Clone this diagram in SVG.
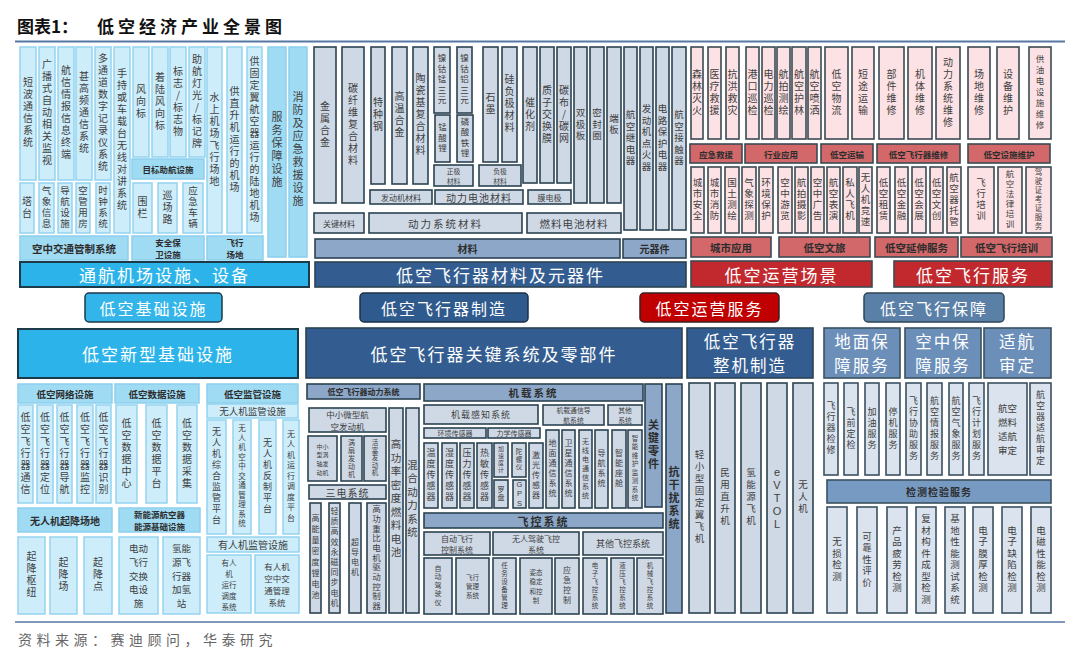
<svg xmlns="http://www.w3.org/2000/svg" width="1080" height="670" viewBox="0 0 1080 670">
<style>
text{font-family:"Noto Sans CJK SC","Noto Sans CJK JP",sans-serif}
.a{fill:#cdedfb;stroke:#93d3f0;stroke-width:1.5}
.ah{fill:#a0dbf4;stroke:#8ccfee;stroke-width:1.5}
.ab{fill:#2cb4ea;stroke:#1c3a47;stroke-width:2}
.b{fill:#cfd9e6;stroke:#2b4352;stroke-width:1.6}
.bm{fill:#8ca7c8;stroke:#2b4352;stroke-width:1.6}
.bb{fill:#335d91;stroke:#2b4352;stroke-width:1.6}
.c{fill:#fde2e5;stroke:#3a4a52;stroke-width:1.6}
.cm{fill:#d2686a;stroke:#3a4a52;stroke-width:1.6}
.cb{fill:#c2292e;stroke:#3a4a52;stroke-width:1.6}
.d{fill:#dbe4ee;stroke:#3a5060;stroke-width:1.6}
.dh{fill:#6b8fb9;stroke:#3a5060;stroke-width:1.6}
.dm{fill:#779ac2;stroke:#3a5060;stroke-width:1.6}
.v{writing-mode:vertical-rl;text-orientation:upright;text-anchor:middle;font-size:10px;letter-spacing:2px;fill:#404040}
.h{text-anchor:middle;dominant-baseline:central;fill:#2d2d2d;font-size:10px;font-weight:bold}
.n{text-anchor:middle;dominant-baseline:central;fill:#404040;font-size:9px}
.w{text-anchor:middle;dominant-baseline:central;fill:#fff;font-size:17px;letter-spacing:2px}
</style>
<rect width="1080" height="670" fill="#fff"/>
<g id="title">
<text x="17" y="33" font-size="17" font-weight="bold" fill="#111">图表1：<tspan x="97" letter-spacing="4">低空经济产业全景图</tspan></text>
<line x1="15" y1="41.5" x2="1065" y2="41.5" stroke="#5577a3" stroke-width="2"/>
</g>
<g id="connectors"/>

<!-- Top-left: general aviation airport -->
<g id="tl1"><rect class="a" x="20" y="47" width="16" height="133"/><text class="v" x="28" y="113.5">短波通信系统</text></g>
<g id="tl2"><rect class="a" x="39" y="47" width="16" height="133"/><text class="v" x="47" y="113.5">广播式自动相关监视</text></g>
<g id="tl3"><rect class="a" x="58" y="47" width="16" height="133"/><text class="v" x="66" y="113.5">航信情报信息终端</text></g>
<g id="tl4"><rect class="a" x="76" y="47" width="16" height="133"/><text class="v" x="84" y="113.5">甚高频通信系统</text></g>
<g id="tl5"><rect class="a" x="95" y="47" width="16" height="133"/><text class="v" x="103" y="113.5">多通道数字记录仪系统</text></g>
<g id="tl6"><rect class="a" x="114" y="47" width="16" height="186"/><text class="v" x="122" y="140">手持或车载台无线对讲系统</text></g>
<g id="tl7"><rect class="a" x="20" y="183" width="14" height="50"/><text class="v" x="27" y="208">塔台</text></g>
<g id="tl8"><rect class="a" x="39" y="183" width="15" height="50"/><text class="v" x="46.5" y="208" style="font-size:9.5px;letter-spacing:1.5px">气象信息</text></g>
<g id="tl9"><rect class="a" x="58" y="183" width="14" height="50"/><text class="v" x="65" y="208" style="font-size:9.5px;letter-spacing:1.5px">导航设施</text></g>
<g id="tl10"><rect class="a" x="76" y="183" width="14" height="50"/><text class="v" x="83" y="208" style="font-size:9.5px;letter-spacing:1.5px">空管用房</text></g>
<g id="tl11"><rect class="a" x="96" y="183" width="14" height="50"/><text class="v" x="103" y="208" style="font-size:9.5px;letter-spacing:1.5px">时钟系统</text></g>
<g id="tl12"><rect class="a" x="133" y="47" width="16" height="110"/><text class="v" x="141" y="102">风向标</text></g>
<g id="tl13"><rect class="a" x="152" y="47" width="16" height="110"/><text class="v" x="160" y="102">着陆风向标</text></g>
<g id="tl14"><rect class="a" x="170" y="47" width="16" height="110"/><text class="v" x="178" y="102">标志/标志物</text></g>
<g id="tl15"><rect class="a" x="189" y="47" width="16" height="110"/><text class="v" x="197" y="102">助航灯光/标记牌</text></g>
<g id="tl16"><rect class="ah" x="132" y="159" width="72" height="20"/><text class="h" x="168" y="169" style="font-size:8.5px">目标助航设施</text></g>
<g id="tl17"><rect class="a" x="133" y="183" width="19" height="50"/><text class="v" x="142.5" y="208">围栏</text></g>
<g id="tl18"><rect class="a" x="158" y="183" width="19" height="50"/><text class="v" x="167.5" y="208">巡场路</text></g>
<g id="tl19"><rect class="a" x="183" y="183" width="20" height="50"/><text class="v" x="193" y="208" style="font-size:9.5px;letter-spacing:1.5px">应急车辆</text></g>
<g id="tl20"><rect class="a" x="207" y="47" width="15" height="186"/><text class="v" x="214.5" y="140">水上机场飞行场地</text></g>
<g id="tl21"><rect class="a" x="227" y="47" width="15" height="186"/><text class="v" x="234.5" y="140">供直升机运行的机场</text></g>
<g id="tl22"><rect class="a" x="247" y="47" width="15" height="186"/><text class="v" x="254.5" y="140">供固定翼航空器运行的陆地机场</text></g>
<g id="tl23"><rect class="ah" x="268" y="47" width="18" height="210"/><text class="v" x="277" y="150" style="font-size:11px">服务保障设施</text></g>
<g id="tl24"><rect class="ah" x="289" y="47" width="18" height="210"/><text class="v" x="298" y="150" style="font-size:11px">消防及应急救援设施</text></g>
<g id="tl25"><rect class="ah" x="20" y="236" width="108" height="24"/><text class="h" x="74" y="248" style="font-size:10.5px">空中交通管制系统</text></g>
<g id="tl26"><rect class="ah" x="132" y="236" width="72" height="24"/><text class="h" x="168" y="248" style="font-size:8.5px"><tspan x="168" dy="-6">安全保</tspan><tspan x="168" dy="12.3">卫设施</tspan></text></g>
<g id="tl27"><rect class="ah" x="207" y="236" width="56" height="24"/><text class="h" x="235" y="248" style="font-size:8.5px"><tspan x="235" dy="-6">飞行</tspan><tspan x="235" dy="12.3">场地</tspan></text></g>
<g id="tl28"><rect class="ab" x="20" y="262" width="289" height="25"/><text class="w" x="164.5" y="274.5">通航机场设施、设备</text></g>

<!-- Top-middle: materials -->
<g id="tm1"><rect class="b" x="314" y="47" width="22" height="156"/><text class="v" x="325" y="125">金属合金</text></g>
<g id="tm2"><rect class="b" x="342" y="47" width="22" height="156"/><text class="v" x="353" y="125">碳纤维复合材料</text></g>
<g id="tm3"><rect class="b" x="371" y="47" width="14" height="137"/><text class="v" x="378" y="115.5">特种钢</text></g>
<g id="tm4"><rect class="b" x="392" y="47" width="15" height="137"/><text class="v" x="399.5" y="115.5">高温合金</text></g>
<g id="tm5"><rect class="b" x="413" y="47" width="15" height="137"/><text class="v" x="420.5" y="115.5">陶瓷基复合材料</text></g>
<g id="tm6"><rect class="b" x="434" y="47" width="16" height="66"/><text class="v" x="442" y="80" style="font-size:8.5px">镍钴锰三元</text></g>
<g id="tm7"><rect class="b" x="457" y="47" width="15" height="66"/><text class="v" x="464.5" y="80" style="font-size:8.5px">镍钴铝三元</text></g>
<g id="tm8"><rect class="b" x="435" y="115" width="15" height="47"/><text class="v" x="442.5" y="138.5" style="font-size:8.5px">锰酸锂</text></g>
<g id="tm9"><rect class="b" x="457" y="115" width="16" height="47"/><text class="v" x="465" y="138.5" style="font-size:8.5px">磷酸铁锂</text></g>
<g id="tm10"><rect class="b" x="434" y="165" width="39" height="21"/><text class="n" x="453.5" y="175.5" style="font-size:6.8px"><tspan x="453.5" dy="-5">正极</tspan><tspan x="453.5" dy="10">材料</tspan></text></g>
<g id="tm11"><rect class="b" x="483" y="47" width="15" height="115"/><text class="v" x="490.5" y="104.5">石墨</text></g>
<g id="tm12"><rect class="b" x="502" y="47" width="15" height="115"/><text class="v" x="509.5" y="104.5">硅负极材料</text></g>
<g id="tm13"><rect class="b" x="479" y="165" width="42" height="21"/><text class="n" x="500" y="175.5" style="font-size:6.8px"><tspan x="500" dy="-5">负极</tspan><tspan x="500" dy="10">材料</tspan></text></g>
<g id="tm14"><rect class="b" x="523" y="47" width="14" height="136"/><text class="v" x="530" y="115">催化剂</text></g>
<g id="tm15"><rect class="b" x="540" y="47" width="14" height="136"/><text class="v" x="547" y="115">质子交换膜</text></g>
<g id="tm16"><rect class="b" x="557" y="47" width="14" height="136"/><text class="v" x="564" y="115">碳布/碳网</text></g>
<g id="tm17"><rect class="b" x="528" y="190" width="43" height="14"/><text class="n" x="549.5" y="197" style="font-size:8px">膜电极</text></g>
<g id="tm18"><rect class="b" x="574" y="47" width="13" height="156"/><text class="v" x="580.5" y="125" style="font-size:9.5px">双极板</text></g>
<g id="tm19"><rect class="b" x="590" y="47" width="14" height="156"/><text class="v" x="597" y="125" style="font-size:9.5px">密封圈</text></g>
<g id="tm20"><rect class="b" x="607" y="47" width="14" height="156"/><text class="v" x="614" y="125" style="font-size:9.5px">端板</text></g>
<g id="tm21"><rect class="b" x="624" y="47" width="13" height="183"/><text class="v" x="630.5" y="138.5" style="font-size:9.5px">航空继电器</text></g>
<g id="tm22"><rect class="b" x="640" y="47" width="13" height="183"/><text class="v" x="646.5" y="138.5" style="font-size:9.5px">发动机点火器</text></g>
<g id="tm23"><rect class="b" x="656" y="47" width="13" height="183"/><text class="v" x="662.5" y="138.5" style="font-size:9.5px">电路保护电器</text></g>
<g id="tm24"><rect class="b" x="672" y="47" width="14" height="183"/><text class="v" x="679" y="138.5" style="font-size:9.5px">航空接触器</text></g>
<g id="tm25"><rect class="b" x="370" y="190" width="62" height="14"/><text class="n" x="401" y="197" style="font-size:8px">发动机材料</text></g>
<g id="tm26"><rect class="b" x="435" y="190" width="88" height="14"/><text class="n" x="479" y="197" style="font-size:10px;letter-spacing:1px">动力电池材料</text></g>
<g id="tm27"><rect class="b" x="314" y="213" width="50" height="20"/><text class="n" x="339" y="223" style="font-size:8px">关键材料</text></g>
<g id="tm28"><rect class="b" x="369" y="213" width="153" height="20"/><text class="n" x="445.5" y="223" style="font-size:10.5px;letter-spacing:2px">动力系统材料</text></g>
<g id="tm29"><rect class="b" x="527" y="213" width="94" height="20"/><text class="n" x="574" y="223" style="font-size:10.5px;letter-spacing:1px">燃料电池材料</text></g>
<g id="tm30"><rect class="bm" x="315" y="239" width="305" height="19"/><text class="h" x="467.5" y="248.5">材料</text></g>
<g id="tm31"><rect class="bm" x="623" y="239" width="63" height="19"/><text class="h" x="654.5" y="248.5">元器件</text></g>
<g id="tm32"><rect class="bb" x="315" y="262" width="371" height="25"/><text class="w" x="500.5" y="274.5">低空飞行器材料及元器件</text></g>

<!-- Top-right: operations -->
<g id="tr1"><rect class="c" x="691" y="47" width="12" height="92"/><text class="v" x="697" y="93">森林灭火</text></g>
<g id="tr2"><rect class="c" x="708" y="47" width="13" height="92"/><text class="v" x="714.5" y="93">医疗救援</text></g>
<g id="tr3"><rect class="c" x="726" y="47" width="13" height="92"/><text class="v" x="732.5" y="93">抗洪救灾</text></g>
<g id="tr4"><rect class="c" x="746" y="47" width="13" height="92"/><text class="v" x="752.5" y="93">港口巡检</text></g>
<g id="tr5"><rect class="c" x="762" y="47" width="13" height="92"/><text class="v" x="768.5" y="93">电力巡检</text></g>
<g id="tr6"><rect class="c" x="777" y="47" width="13" height="92"/><text class="v" x="783.5" y="93">航拍测绘</text></g>
<g id="tr7"><rect class="c" x="792" y="47" width="14" height="92"/><text class="v" x="799" y="93">航空护林</text></g>
<g id="tr8"><rect class="c" x="808" y="47" width="13" height="92"/><text class="v" x="814.5" y="93">航空喷洒</text></g>
<g id="tr9"><rect class="c" x="825" y="47" width="23" height="92"/><text class="v" x="836.5" y="93">低空物流</text></g>
<g id="tr10"><rect class="c" x="852" y="47" width="22" height="92"/><text class="v" x="863" y="93">短途运输</text></g>
<g id="tr11"><rect class="c" x="879" y="47" width="25" height="92"/><text class="v" x="891.5" y="93">部件维修</text></g>
<g id="tr12"><rect class="c" x="908" y="47" width="24" height="92"/><text class="v" x="920" y="93">机体维修</text></g>
<g id="tr13"><rect class="c" x="936" y="47" width="24" height="92"/><text class="v" x="948" y="93">动力系统维修</text></g>
<g id="tr14"><rect class="c" x="968" y="47" width="22" height="92"/><text class="v" x="979" y="93">场地维修</text></g>
<g id="tr15"><rect class="c" x="997" y="47" width="22" height="92"/><text class="v" x="1008" y="93">设备维护</text></g>
<g id="tr16"><rect class="c" x="1029" y="47" width="22" height="92"/><text class="v" x="1040" y="93" style="font-size:8.5px;letter-spacing:2.5px">供油电设施维修</text></g>
<g id="tr17"><rect class="cm" x="690" y="144" width="52" height="19"/><text class="h" x="716" y="153.5" style="font-size:8.5px">应急救援</text></g>
<g id="tr18"><rect class="cm" x="745" y="144" width="72" height="19"/><text class="h" x="781" y="153.5" style="font-size:8.5px">行业应用</text></g>
<g id="tr19"><rect class="cm" x="821" y="144" width="52" height="19"/><text class="h" x="847" y="153.5" style="font-size:8.5px">低空运输</text></g>
<g id="tr20"><rect class="cm" x="877" y="144" width="83" height="19"/><text class="h" x="918.5" y="153.5" style="font-size:8.5px">低空飞行器维修</text></g>
<g id="tr21"><rect class="cm" x="968" y="144" width="82" height="19"/><text class="h" x="1009" y="153.5" style="font-size:8.5px">低空设施维护</text></g>
<g id="tr22"><rect class="c" x="691" y="167" width="13" height="66"/><text class="v" x="697.5" y="200" style="font-size:9.5px;letter-spacing:1.5px">城市安全</text></g>
<g id="tr23"><rect class="c" x="708" y="167" width="13" height="66"/><text class="v" x="714.5" y="200" style="font-size:9.5px;letter-spacing:1.5px">城市消防</text></g>
<g id="tr24"><rect class="c" x="725" y="167" width="14" height="66"/><text class="v" x="732" y="200" style="font-size:9.5px;letter-spacing:1.5px">国土测绘</text></g>
<g id="tr25"><rect class="c" x="742" y="167" width="14" height="66"/><text class="v" x="749" y="200" style="font-size:9.5px;letter-spacing:1.5px">气象探测</text></g>
<g id="tr26"><rect class="c" x="759" y="167" width="14" height="66"/><text class="v" x="766" y="200" style="font-size:9.5px;letter-spacing:1.5px">环境保护</text></g>
<g id="tr27"><rect class="c" x="778" y="167" width="14" height="66"/><text class="v" x="785" y="200" style="font-size:9.5px;letter-spacing:1.5px">空中游览</text></g>
<g id="tr28"><rect class="c" x="795" y="167" width="13" height="66"/><text class="v" x="801.5" y="200" style="font-size:9.5px;letter-spacing:1.5px">航拍摄影</text></g>
<g id="tr29"><rect class="c" x="811" y="167" width="13" height="66"/><text class="v" x="817.5" y="200" style="font-size:9.5px;letter-spacing:1.5px">空中广告</text></g>
<g id="tr30"><rect class="c" x="827" y="167" width="13" height="66"/><text class="v" x="833.5" y="200" style="font-size:9.5px;letter-spacing:1.5px">航空表演</text></g>
<g id="tr31"><rect class="c" x="843" y="167" width="14" height="66"/><text class="v" x="850" y="200" style="font-size:9.5px;letter-spacing:1.5px">私人飞机</text></g>
<g id="tr32"><rect class="c" x="859" y="167" width="13" height="66"/><text class="v" x="865.5" y="200" style="font-size:9.5px;letter-spacing:1.5px">无人机竞速</text></g>
<g id="tr33"><rect class="c" x="877" y="167" width="13" height="66"/><text class="v" x="883.5" y="200" style="font-size:9.5px;letter-spacing:1.5px">低空租赁</text></g>
<g id="tr34"><rect class="c" x="895" y="167" width="13" height="66"/><text class="v" x="901.5" y="200" style="font-size:9.5px;letter-spacing:1.5px">低空金融</text></g>
<g id="tr35"><rect class="c" x="912" y="167" width="14" height="66"/><text class="v" x="919" y="200" style="font-size:9.5px;letter-spacing:1.5px">低空会展</text></g>
<g id="tr36"><rect class="c" x="930" y="167" width="13" height="66"/><text class="v" x="936.5" y="200" style="font-size:9.5px;letter-spacing:1.5px">低空文创</text></g>
<g id="tr37"><rect class="c" x="947" y="167" width="14" height="66"/><text class="v" x="954" y="200" style="font-size:9.5px;letter-spacing:1.5px">航空器托管</text></g>
<g id="tr38"><rect class="c" x="968" y="167" width="26" height="66"/><text class="v" x="981" y="200" style="font-size:9.5px;letter-spacing:1.5px">飞行培训</text></g>
<g id="tr39"><rect class="c" x="998" y="167" width="24" height="66"/><text class="v" x="1010" y="200" style="font-size:8.5px;letter-spacing:1.5px">航空法律培训</text></g>
<g id="tr40"><rect class="c" x="1026" y="167" width="25" height="66"/><text class="v" x="1038.5" y="200" style="font-size:7.5px;letter-spacing:1.5px">驾驶证考证服务</text></g>
<g id="tr41"><rect class="cm" x="691" y="237" width="80" height="20"/><text class="h" x="731" y="247" style="font-size:10.5px">城市应用</text></g>
<g id="tr42"><rect class="cm" x="779" y="237" width="91" height="20"/><text class="h" x="824.5" y="247" style="font-size:10.5px">低空文旅</text></g>
<g id="tr43"><rect class="cm" x="875" y="237" width="83" height="20"/><text class="h" x="916.5" y="247" style="font-size:10.5px">低空延伸服务</text></g>
<g id="tr44"><rect class="cm" x="961" y="237" width="91" height="20"/><text class="h" x="1006.5" y="247" style="font-size:10.5px">低空飞行培训</text></g>
<g id="tr45"><rect class="cb" x="691" y="261" width="181" height="26"/><text class="w" x="781.5" y="274">低空运营场景</text></g>
<g id="tr46"><rect class="cb" x="894" y="261" width="158" height="26"/><text class="w" x="973" y="274">低空飞行服务</text></g>

<!-- Middle titles -->
<g id="mid1"><rect x="85" y="293" width="137" height="29" rx="4" fill="#33b5ea" stroke="#1c3a47" stroke-width="1.5"/><text class="w" x="153.5" y="307.5" style="font-size:16px">低空基础设施</text></g>
<g id="mid2"><rect x="360" y="293" width="168" height="29" rx="4" fill="#2f5a8e" stroke="#1c3047" stroke-width="1.5"/><text class="w" x="444" y="307.5" style="font-size:16px">低空飞行器制造</text></g>
<g id="mid3"><rect x="640" y="293" width="139" height="29" rx="4" fill="#c00000" stroke="#3a2020" stroke-width="1.5"/><text class="w" x="709.5" y="307.5" style="font-size:16px">低空运营服务</text></g>
<g id="mid4"><rect x="864" y="293" width="140" height="29" rx="4" fill="#5b80a8" stroke="#2e4456" stroke-width="1.5"/><text class="w" x="934" y="307.5" style="font-size:16px">低空飞行保障</text></g>

<!-- Bottom-left: new infrastructure -->
<g id="bl1"><rect class="ab" x="18" y="329" width="280" height="49"/><text class="w" x="158" y="353.5">低空新型基础设施</text></g>
<g id="bl2"><rect class="ah" x="18" y="384" width="94" height="19"/><text class="h" x="65" y="393.5" style="font-size:9.5px">低空网络设施</text></g>
<g id="bl3"><rect class="ah" x="115" y="384" width="84" height="19"/><text class="h" x="157" y="393.5" style="font-size:9.5px">低空数据设施</text></g>
<g id="bl4"><rect class="ah" x="207" y="384" width="91" height="19"/><text class="h" x="252.5" y="393.5" style="font-size:9.5px">低空监管设施</text></g>
<g id="bl5"><rect class="a" x="207" y="404" width="91" height="14"/><text class="n" x="252.5" y="411" style="font-size:9.5px">无人机监管设施</text></g>
<g id="bl6"><rect class="a" x="18" y="405" width="15" height="98"/><text class="v" x="25.5" y="454">低空飞行器通信</text></g>
<g id="bl7"><rect class="a" x="37" y="405" width="16" height="98"/><text class="v" x="45" y="454">低空飞行器定位</text></g>
<g id="bl8"><rect class="a" x="57" y="405" width="15" height="98"/><text class="v" x="64.5" y="454">低空飞行器导航</text></g>
<g id="bl9"><rect class="a" x="77" y="405" width="16" height="98"/><text class="v" x="85" y="454">低空飞行器监控</text></g>
<g id="bl10"><rect class="a" x="96" y="405" width="15" height="98"/><text class="v" x="103.5" y="454">低空飞行器识别</text></g>
<g id="bl11"><rect class="a" x="116" y="405" width="21" height="98"/><text class="v" x="126.5" y="454">低空数据中心</text></g>
<g id="bl12"><rect class="a" x="146" y="405" width="21" height="98"/><text class="v" x="156.5" y="454">低空数据平台</text></g>
<g id="bl13"><rect class="a" x="177" y="405" width="20" height="98"/><text class="v" x="187" y="454">低空数据采集</text></g>
<g id="bl14"><rect class="a" x="207" y="420" width="19" height="114"/><text class="v" x="216.5" y="477" style="font-size:9px">无人机综合监管平台</text></g>
<g id="bl15"><rect class="a" x="233" y="420" width="18" height="114"/><text class="v" x="242" y="477" style="font-size:7.5px">无人机空中交通管理系统</text></g>
<g id="bl16"><rect class="a" x="259" y="420" width="17" height="114"/><text class="v" x="267.5" y="477" style="font-size:9px">无人机反制平台</text></g>
<g id="bl17"><rect class="a" x="283" y="420" width="16" height="114"/><text class="v" x="291" y="477" style="font-size:8px;letter-spacing:2.5px">无人机运行调度平台</text></g>
<g id="bl18"><rect class="ah" x="18" y="508" width="94" height="24"/><text class="h" x="65" y="520">无人机起降场地</text></g>
<g id="bl19"><rect class="ah" x="119" y="508" width="81" height="24"/><text class="h" x="159.5" y="520" style="font-size:8.5px"><tspan x="159.5" dy="-6">新能源航空器</tspan><tspan x="159.5" dy="12.3">能源基础设施</tspan></text></g>
<g id="bl20"><rect class="a" x="18" y="537" width="27" height="77"/><text class="v" x="31.5" y="575.5">起降枢纽</text></g>
<g id="bl21"><rect class="a" x="50" y="537" width="27" height="77"/><text class="v" x="63.5" y="575.5">起降场</text></g>
<g id="bl22"><rect class="a" x="84" y="537" width="28" height="77"/><text class="v" x="98" y="575.5">起降点</text></g>
<g id="bl23"><rect class="a" x="119" y="537" width="39" height="77"/><text class="n" x="138.5" y="575.5" style="font-size:9.5px"><tspan x="138.5" dy="-27.6">电动</tspan><tspan x="138.5" dy="13.8">飞行</tspan><tspan x="138.5" dy="13.8">交换</tspan><tspan x="138.5" dy="13.8">电设</tspan><tspan x="138.5" dy="13.8">施</tspan></text></g>
<g id="bl24"><rect class="a" x="163" y="537" width="37" height="77"/><text class="n" x="181.5" y="575.5" style="font-size:9.5px"><tspan x="181.5" dy="-27.6">氢能</tspan><tspan x="181.5" dy="13.8">源飞</tspan><tspan x="181.5" dy="13.8">行器</tspan><tspan x="181.5" dy="13.8">加氢</tspan><tspan x="181.5" dy="13.8">站</tspan></text></g>
<g id="bl25"><rect class="a" x="207" y="537" width="92" height="15"/><text class="n" x="253" y="544.5" style="font-size:10px">有人机监管设施</text></g>
<g id="bl26"><rect class="a" x="207" y="555" width="44" height="58"/><text class="n" x="229" y="584" style="font-size:7.5px"><tspan x="229" dy="-22">有人</tspan><tspan x="229" dy="11">机</tspan><tspan x="229" dy="11">运行</tspan><tspan x="229" dy="11">调度</tspan><tspan x="229" dy="11">系统</tspan></text></g>
<g id="bl27"><rect class="a" x="255" y="555" width="44" height="58"/><text class="n" x="277" y="584" style="font-size:8.5px"><tspan x="277" dy="-18.5">有人机</tspan><tspan x="277" dy="12.3">空中交</tspan><tspan x="277" dy="12.3">通管理</tspan><tspan x="277" dy="12.3">系统</tspan></text></g>

<!-- Bottom-middle: key systems -->
<g id="bm1"><rect class="bb" x="306" y="328" width="376" height="50"/><text class="w" x="494" y="353">低空飞行器关键系统及零部件</text></g>
<g id="bm2"><rect class="bm" x="307" y="384" width="113" height="15"/><text class="h" x="363.5" y="391.5" style="font-size:8px">低空飞行器动力系统</text></g>
<g id="bm3"><rect class="bm" x="424" y="384" width="219" height="17"/><text class="h" x="533.5" y="392.5" style="font-size:10.5px;letter-spacing:2px">机载系统</text></g>
<g id="bm4"><rect class="bm" x="645" y="384" width="17" height="123"/><text class="v" x="653.5" y="445.5" style="font-size:11px;font-weight:bold;fill:#2d2d2d">关键零件</text></g>
<g id="bm5"><rect class="bm" x="666" y="384" width="16" height="229"/><text class="v" x="674" y="498.5" style="font-size:11px;font-weight:bold;fill:#2d2d2d">抗干扰系统</text></g>
<g id="bm6"><rect class="b" x="309" y="408" width="77" height="24"/><text class="n" x="347.5" y="420" style="font-size:8.5px"><tspan x="347.5" dy="-6">中小微型航</tspan><tspan x="347.5" dy="12.3">空发动机</tspan></text></g>
<g id="bm7"><rect class="b" x="308" y="436" width="29" height="45"/><text class="n" x="322.5" y="458.5" style="font-size:6px"><tspan x="322.5" dy="-13">中小</tspan><tspan x="322.5" dy="8.7">型涡</tspan><tspan x="322.5" dy="8.7">轴发</tspan><tspan x="322.5" dy="8.7">动机</tspan></text></g>
<g id="bm8"><rect class="b" x="341" y="436" width="21" height="45"/><text class="v" x="351.5" y="458.5" style="font-size:7px;letter-spacing:1px">涡扇发动机</text></g>
<g id="bm9"><rect class="b" x="364" y="436" width="22" height="45"/><text class="v" x="375" y="458.5" style="font-size:6.5px;letter-spacing:1px">活塞发动机</text></g>
<g id="bm10"><rect class="b" x="309" y="485" width="77" height="14"/><text class="n" x="347.5" y="492" style="font-size:10px;letter-spacing:1px">三电系统</text></g>
<g id="bm11"><rect class="b" x="310" y="503" width="11" height="110"/><text class="v" x="315.5" y="558" style="font-size:8px;letter-spacing:3px">高能量密度锂电池</text></g>
<g id="bm12"><rect class="b" x="329" y="503" width="11" height="110"/><text class="v" x="334.5" y="558" style="font-size:8px;letter-spacing:2.2px">轻质高效永磁同步电机</text></g>
<g id="bm13"><rect class="b" x="349" y="503" width="12" height="110"/><text class="v" x="355" y="558" style="font-size:8px">超导电机</text></g>
<g id="bm14"><rect class="b" x="367" y="503" width="19" height="110"/><text class="v" x="376.5" y="558" style="font-size:8.5px;letter-spacing:1.2px">高功重比电机驱动控制器</text></g>
<g id="bm15"><rect class="b" x="389" y="408" width="14" height="205"/><text class="v" x="396" y="500" style="font-size:10.5px;letter-spacing:3px">高功率密度燃料电池</text></g>
<g id="bm16"><rect class="b" x="406" y="408" width="13" height="205"/><text class="v" x="412.5" y="500" style="font-size:10.5px;letter-spacing:3px">混合动力系统</text></g>
<g id="bm17"><rect class="b" x="424" y="405" width="114" height="19"/><text class="n" x="481" y="414.5" style="font-size:9px;letter-spacing:1px">机载感知系统</text></g>
<g id="bm18"><rect class="b" x="543" y="405" width="61" height="20"/><text class="n" x="573.5" y="415" style="font-size:6.8px"><tspan x="573.5" dy="-5">机载通信导</tspan><tspan x="573.5" dy="10">航系统</tspan></text></g>
<g id="bm19"><rect class="b" x="608" y="405" width="34" height="20"/><text class="n" x="625" y="415" style="font-size:6.8px"><tspan x="625" dy="-5">其他</tspan><tspan x="625" dy="10">系统</tspan></text></g>
<g id="bm20"><rect class="b" x="424" y="428" width="62" height="10"/><text class="n" x="455" y="433" style="font-size:7px">环境传感器</text></g>
<g id="bm21"><rect class="b" x="488" y="428" width="52" height="10"/><text class="n" x="514" y="433" style="font-size:7px">力学传感器</text></g>
<g id="bm22"><rect class="b" x="424" y="443" width="14" height="65"/><text class="v" x="431" y="475.5" style="font-size:9px">温度传感器</text></g>
<g id="bm23"><rect class="b" x="442" y="443" width="15" height="65"/><text class="v" x="449.5" y="475.5" style="font-size:9px">湿度传感器</text></g>
<g id="bm24"><rect class="b" x="460" y="443" width="14" height="65"/><text class="v" x="467" y="475.5" style="font-size:9px">压力传感器</text></g>
<g id="bm25"><rect class="b" x="477" y="443" width="15" height="65"/><text class="v" x="484.5" y="475.5" style="font-size:9px">热敏传感器</text></g>
<g id="bm26"><rect class="b" x="494" y="443" width="14" height="34"/><text class="v" x="501" y="460" style="font-size:6px;letter-spacing:1px">加速度计</text></g>
<g id="bm27"><rect class="b" x="494" y="480" width="14" height="28"/><text class="v" x="501" y="494" style="font-size:7px;letter-spacing:1px">罗盘</text></g>
<g id="bm28"><rect class="b" x="512" y="443" width="14" height="34"/><text class="v" x="519" y="460" style="font-size:6.5px;letter-spacing:1px">陀螺仪</text></g>
<g id="bm29"><rect class="b" x="513" y="480" width="13" height="28"/><text class="v" x="519.5" y="494" style="font-size:7.5px;letter-spacing:0.5px;font-family:'Liberation Sans',sans-serif">GPS</text></g>
<g id="bm30"><rect class="b" x="529" y="443" width="14" height="65"/><text class="v" x="536" y="475.5" style="font-size:8px">激光传感器</text></g>
<g id="bm31"><rect class="b" x="546" y="430" width="13" height="78"/><text class="v" x="552.5" y="469" style="font-size:8px">地面通信系统</text></g>
<g id="bm32"><rect class="b" x="562" y="430" width="13" height="78"/><text class="v" x="568.5" y="469" style="font-size:8px">卫星通信系统</text></g>
<g id="bm33"><rect class="b" x="579" y="430" width="13" height="78"/><text class="v" x="585.5" y="469" style="font-size:7px">无线电通信系统</text></g>
<g id="bm34"><rect class="b" x="595" y="430" width="13" height="78"/><text class="v" x="601.5" y="469" style="font-size:8px">导航系统</text></g>
<g id="bm35"><rect class="b" x="612" y="430" width="14" height="78"/><text class="v" x="619" y="469" style="font-size:8px">智能座舱</text></g>
<g id="bm36"><rect class="b" x="628" y="430" width="14" height="78"/><text class="v" x="635" y="469" style="font-size:6.5px">智能维护监测系统</text></g>
<g id="bm37"><rect class="bm" x="424" y="513" width="239" height="15"/><text class="h" x="543.5" y="520.5" style="font-size:11px;letter-spacing:2px">飞控系统</text></g>
<g id="bm38"><rect class="b" x="424" y="532" width="66" height="23"/><text class="n" x="457" y="543.5" style="font-size:8px"><tspan x="457" dy="-5.8">自动飞行</tspan><tspan x="457" dy="11.6">控制系统</tspan></text></g>
<g id="bm39"><rect class="b" x="493" y="532" width="86" height="23"/><text class="n" x="536" y="543.5" style="font-size:8px"><tspan x="536" dy="-5.8">无人驾驶飞控</tspan><tspan x="536" dy="11.6">系统</tspan></text></g>
<g id="bm40"><rect class="b" x="583" y="532" width="80" height="23"/><text class="n" x="623" y="543.5" style="font-size:9px">其他飞控系统</text></g>
<g id="bm41"><rect class="b" x="424" y="558" width="28" height="56"/><text class="v" x="438" y="586" style="font-size:7px;letter-spacing:1.5px">自动驾驶仪</text></g>
<g id="bm42"><rect class="b" x="456" y="558" width="33" height="56"/><text class="n" x="472.5" y="586" style="font-size:6.5px"><tspan x="472.5" dy="-9.4">飞行</tspan><tspan x="472.5" dy="9.4">管理</tspan><tspan x="472.5" dy="9.4">系统</tspan></text></g>
<g id="bm43"><rect class="b" x="493" y="558" width="23" height="56"/><text class="v" x="504.5" y="586" style="font-size:6.5px;letter-spacing:1.5px">任务设备管理</text></g>
<g id="bm44"><rect class="b" x="520" y="558" width="32" height="56"/><text class="n" x="536" y="586" style="font-size:6.5px"><tspan x="536" dy="-14.1">姿态</tspan><tspan x="536" dy="9.4">稳定</tspan><tspan x="536" dy="9.4">和控</tspan><tspan x="536" dy="9.4">制</tspan></text></g>
<g id="bm45"><rect class="b" x="555" y="558" width="24" height="56"/><text class="v" x="567" y="586" style="font-size:8px;letter-spacing:2px">应急控制</text></g>
<g id="bm46"><rect class="b" x="583" y="558" width="24" height="56"/><text class="v" x="595" y="586" style="font-size:6.5px;letter-spacing:1.5px">电子飞控系统</text></g>
<g id="bm47"><rect class="b" x="611" y="558" width="23" height="56"/><text class="v" x="622.5" y="586" style="font-size:6.5px;letter-spacing:1.5px">液压飞控系统</text></g>
<g id="bm48"><rect class="b" x="637" y="558" width="26" height="56"/><text class="v" x="650" y="586" style="font-size:6.5px;letter-spacing:1.5px">机械飞控系统</text></g>

<!-- Bottom-right: whole aircraft & flight support -->
<g id="br1"><rect class="bb" x="687" y="328" width="126" height="50"/><text class="w" x="750" y="353" style="font-size:16.5px"><tspan x="750" dy="-12">低空飞行器</tspan><tspan x="750" dy="24">整机制造</tspan></text></g>
<g id="br2"><rect class="b" x="689" y="383" width="21" height="230"/><text class="v" x="699.5" y="498" style="font-size:9.5px;letter-spacing:2.5px">轻小型固定翼飞机</text></g>
<g id="br3"><rect class="b" x="715" y="383" width="20" height="230"/><text class="v" x="725" y="498" style="font-size:9.5px;letter-spacing:2.5px">民用直升机</text></g>
<g id="br4"><rect class="b" x="741" y="383" width="20" height="230"/><text class="v" x="751" y="498" style="font-size:9.5px;letter-spacing:2.5px">氢能源飞机</text></g>
<g id="br5"><rect class="b" x="767" y="383" width="20" height="230"/><text class="v" x="777" y="498" style="font-size:11px;letter-spacing:1px;font-family:'Liberation Sans',sans-serif">eVTOL</text></g>
<g id="br6"><rect class="b" x="793" y="383" width="20" height="230"/><text class="v" x="803" y="498" style="font-size:9.5px;letter-spacing:2.5px">无人机</text></g>
<g id="br7"><rect class="dh" x="824" y="328" width="76" height="50"/><text class="w" x="862" y="353" style="font-size:16.5px"><tspan x="862" dy="-12">地面保</tspan><tspan x="862" dy="24">障服务</tspan></text></g>
<g id="br8"><rect class="dh" x="905" y="328" width="76" height="50"/><text class="w" x="943" y="353" style="font-size:16.5px"><tspan x="943" dy="-12">空中保</tspan><tspan x="943" dy="24">障服务</tspan></text></g>
<g id="br9"><rect class="dh" x="984" y="328" width="67" height="50"/><text class="w" x="1017.5" y="353" style="font-size:16.5px"><tspan x="1017.5" dy="-12">适航</tspan><tspan x="1017.5" dy="24">审定</tspan></text></g>
<g id="br10"><rect class="d" x="824" y="383" width="14" height="92"/><text class="v" x="831" y="429" style="font-size:9px">飞行器检修</text></g>
<g id="br11"><rect class="d" x="844" y="383" width="14" height="92"/><text class="v" x="851" y="429" style="font-size:9px">飞前定检</text></g>
<g id="br12"><rect class="d" x="865" y="383" width="14" height="92"/><text class="v" x="872" y="429" style="font-size:9px">加油服务</text></g>
<g id="br13"><rect class="d" x="886" y="383" width="14" height="92"/><text class="v" x="893" y="429" style="font-size:9px">停机服务</text></g>
<g id="br14"><rect class="d" x="906" y="383" width="15" height="92"/><text class="v" x="913.5" y="429" style="font-size:9px">飞行协助服务</text></g>
<g id="br15"><rect class="d" x="927" y="383" width="15" height="92"/><text class="v" x="934.5" y="429" style="font-size:9px">航空情报服务</text></g>
<g id="br16"><rect class="d" x="949" y="383" width="14" height="92"/><text class="v" x="956" y="429" style="font-size:9px">航空气象服务</text></g>
<g id="br17"><rect class="d" x="969" y="383" width="15" height="92"/><text class="v" x="976.5" y="429" style="font-size:9px">飞行计划服务</text></g>
<g id="br18"><rect class="d" x="988" y="383" width="39" height="92"/><text class="n" x="1007.5" y="429" style="font-size:9.5px"><tspan x="1007.5" dy="-20.7">航空</tspan><tspan x="1007.5" dy="13.8">燃料</tspan><tspan x="1007.5" dy="13.8">适航</tspan><tspan x="1007.5" dy="13.8">审定</tspan></text></g>
<g id="br19"><rect class="d" x="1030" y="383" width="21" height="92"/><text class="v" x="1040.5" y="429" style="font-size:9px">航空器适航审定</text></g>
<g id="br20"><rect class="dm" x="827" y="480" width="224" height="23"/><text class="h" x="939" y="491.5" style="letter-spacing:1px">检测检验服务</text></g>
<g id="br21"><rect class="d" x="827" y="507" width="20" height="106"/><text class="v" x="837" y="560" style="font-size:9.5px">无损检测</text></g>
<g id="br22"><rect class="d" x="857" y="507" width="20" height="106"/><text class="v" x="867" y="560" style="font-size:9.5px">可靠性评价</text></g>
<g id="br23"><rect class="d" x="887" y="507" width="20" height="106"/><text class="v" x="897" y="560" style="font-size:9.5px">产品疲劳检测</text></g>
<g id="br24"><rect class="d" x="916" y="507" width="20" height="106"/><text class="v" x="926" y="560" style="font-size:9.5px">复材构件成型检测</text></g>
<g id="br25"><rect class="d" x="945" y="507" width="20" height="106"/><text class="v" x="955" y="560" style="font-size:9.5px">基地性能测试系统</text></g>
<g id="br26"><rect class="d" x="973" y="507" width="20" height="106"/><text class="v" x="983" y="560" style="font-size:9.5px">电子膜厚检测</text></g>
<g id="br27"><rect class="d" x="1002" y="507" width="20" height="106"/><text class="v" x="1012" y="560" style="font-size:9.5px">电子缺陷检测</text></g>
<g id="br28"><rect class="d" x="1031" y="507" width="20" height="106"/><text class="v" x="1041" y="560" style="font-size:9.5px">电磁性能检测</text></g>

<g id="footer">
<line x1="15" y1="622" x2="1065" y2="622" stroke="#5577a3" stroke-width="1.5"/>
<text x="18" y="645" font-size="14" fill="#666" letter-spacing="4.5">资料来源：赛迪顾问，华泰研究</text>
</g>
</svg>
